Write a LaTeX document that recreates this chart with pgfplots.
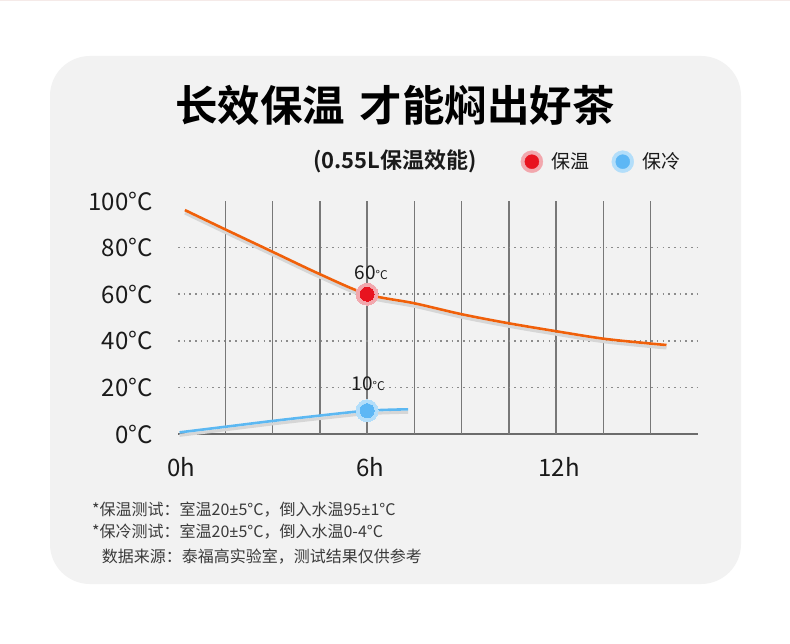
\documentclass[border=0pt]{standalone}
\usepackage{fontspec}
\setmainfont{Noto Sans CJK SC}
\newfontfamily\cjkbold{Noto Sans CJK SC Bold}
\newfontfamily\lat{Noto Sans}
\usepackage{pgfplots}
\pgfplotsset{compat=1.18}

\definecolor{card}{HTML}{F2F2F2}
\definecolor{topline}{HTML}{F5EAE8}
\definecolor{txt}{HTML}{1A1A1A}
\definecolor{note}{HTML}{3A3A3A}
\definecolor{vgrid}{HTML}{787878}
\definecolor{hgrid}{HTML}{8C8C8C}
\definecolor{axisline}{HTML}{6C6C6C}
\definecolor{warm}{HTML}{F0600A}
\definecolor{cool}{HTML}{5CB8F2}
\definecolor{reddot}{HTML}{E8131F}
\definecolor{redhalo}{HTML}{F2A7AD}
\definecolor{bluedot}{HTML}{5DB7F5}
\definecolor{bluehalo}{HTML}{B3DEFA}
\definecolor{shade}{HTML}{D6D6D6}

\newcommand{\plusminus}{{\lat ±}}

\begin{document}
\begin{tikzpicture}
% card background
\fill[white] (0pt,0pt) rectangle (790pt,643pt);
\fill[topline] (0pt,641.5pt) rectangle (790pt,643pt);
\fill[card, rounded corners=40pt] (50pt,59pt) rectangle (741pt,587pt);

\node[font=\cjkbold\fontsize{42.5}{42.5}\selectfont, text=black] at (395pt,538pt)
  {长效保温\hspace{0.35em}才能焖出好茶};
\node[anchor=west, inner sep=0pt, font=\cjkbold\fontsize{22}{22}\selectfont, text=txt]
  at (313pt,481.3pt) {(0.55L保温效能)};

\begin{axis}[
    at={(178pt,209pt)}, anchor=south west,
    width=520pt, height=233pt, scale only axis,
    xmin=0, xmax=16.5, ymin=0, ymax=100,
    clip=false,
    axis x line=bottom, axis y line=left,
    x axis line style={-, draw=axisline, line width=1.8pt},
    y axis line style={draw=none},
    major tick length=0pt,
    xtick={0,6,12},
    ytick={0,20,40,60,80,100},
    /pgf/number format/assume math mode=true,
    xticklabel={\pgfmathprintnumber{\tick}h},
    yticklabel={\pgfmathprintnumber{\tick}°C},
    xticklabel style={anchor=center, inner sep=0pt, yshift=-33pt, xshift=3pt,
        font=\fontsize{24}{24}\selectfont, text=txt},
    yticklabel style={anchor=east, inner sep=0pt, xshift=-25pt,
        font=\fontsize{24}{24}\selectfont, text=txt},
    extra x ticks={1.5,3,4.5,6,7.5,9,10.5,12,13.5,15},
    extra x tick style={grid=major, xticklabel={},
        major grid style={draw=vgrid, line width=1.4pt}},
    extra y ticks={20,40,60,80},
    extra y tick style={grid=major, yticklabel={},
        major grid style={draw=hgrid, line width=1.6pt, dash pattern=on 1.6pt off 4.1pt}},
    legend columns=2,
    legend style={at={(0.659,1.1687)}, anchor=west, draw=none, fill=none,
        inner sep=0pt, outer sep=0pt,
        font=\fontsize{19}{19}\selectfont, text=txt,
        nodes={inner sep=0pt},
        /tikz/every odd column/.append style={column sep=8.5pt},
        /tikz/every even column/.append style={column sep=22pt}},
]
% soft shadows under the curves
\addplot[smooth, draw=shade, line width=3pt, yshift=-3pt, forget plot] coordinates {
    (0.22,96.1) (1.5,87.8) (3,78.2) (4.5,68.6) (6,60) (7.5,56.1)
    (9,51.4) (10.5,47.5) (12,44.1) (13.5,40.9) (15,38.8) (15.5,38.2)};
\addplot[smooth, draw=shade, line width=3pt, yshift=-3pt, forget plot] coordinates {
    (0.05,0.7) (1.5,3.1) (3,5.6) (4.5,7.9) (6,10) (7.3,10.6)};

% keep-warm curve
\addplot[smooth, draw=warm, line width=2.6pt, forget plot] coordinates {
    (0.22,96.1) (1.5,87.8) (3,78.2) (4.5,68.6) (6,60) (7.5,56.1)
    (9,51.4) (10.5,47.5) (12,44.1) (13.5,40.9) (15,38.8) (15.5,38.2)};
% keep-cold curve
\addplot[smooth, draw=cool, line width=2.6pt, forget plot] coordinates {
    (0.05,0.7) (1.5,3.1) (3,5.6) (4.5,7.9) (6,10) (7.3,10.6)};

% 6h markers
\addplot[only marks, mark=*, mark size=11pt, color=redhalo,
    mark options={fill=redhalo, draw=redhalo, line width=0pt}, forget plot]
    coordinates {(6,60)};
\addplot[only marks, mark=*, mark size=7pt, color=reddot,
    mark options={fill=reddot, draw=reddot, line width=0pt}, forget plot]
    coordinates {(6,60)};
\addplot[only marks, mark=*, mark size=11pt, color=bluehalo,
    mark options={fill=bluehalo, draw=bluehalo, line width=0pt}, forget plot]
    coordinates {(6,10)};
\addplot[only marks, mark=*, mark size=7pt, color=bluedot,
    mark options={fill=bluedot, draw=bluedot, line width=0pt}, forget plot]
    coordinates {(6,10)};

\node[text=txt, font=\fontsize{19}{19}\selectfont] at (axis cs:6,60) [xshift=4pt, yshift=21.3pt]
    {60{\fontsize{12}{12}\selectfont °C}};
\node[text=txt, font=\fontsize{19}{19}\selectfont] at (axis cs:6,10) [xshift=1pt, yshift=27pt]
    {10{\fontsize{12}{12}\selectfont °C}};

\addlegendimage{legend image code/.code={
    \fill[redhalo] (11pt,0pt) circle (11pt);
    \fill[reddot] (11pt,0pt) circle (7pt);}}
\addlegendentry{保温}
\addlegendimage{legend image code/.code={
    \fill[bluehalo] (11pt,0pt) circle (11pt);
    \fill[bluedot] (11pt,0pt) circle (7pt);}}
\addlegendentry{保冷}
\end{axis}

% footnotes
\node[anchor=west, inner sep=0pt, text=note, font=\fontsize{16}{16}\selectfont]
  at (92pt,133pt) {*保温测试：室温20\plusminus5°C，倒入水温95\plusminus1°C};
\node[anchor=west, inner sep=0pt, text=note, font=\fontsize{16}{16}\selectfont]
  at (92pt,111.3pt) {*保冷测试：室温20\plusminus5°C，倒入水温0-4°C};
\node[anchor=west, inner sep=0pt, text=note, font=\fontsize{16}{16}\selectfont]
  at (101.7pt,86.3pt) {数据来源：泰福高实验室，测试结果仅供参考};
\end{tikzpicture}
\end{document}
